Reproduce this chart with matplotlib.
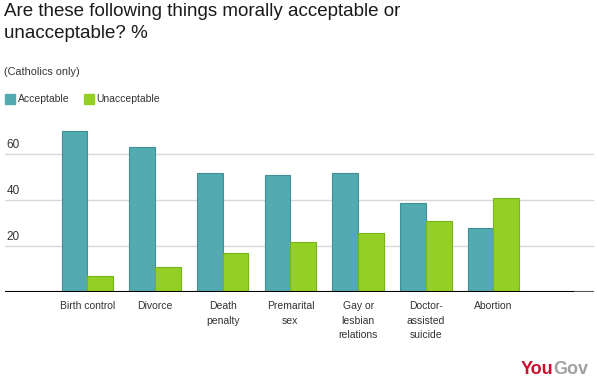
import numpy as np
import matplotlib.pyplot as plt

plt.rcParams['font.family'] = ['Liberation Sans', 'DejaVu Sans']

categorias = ['Birth control', 'Divorce', 'Death\npenalty', 'Premarital\nsex',
              'Gay or\nlesbian\nrelations', 'Doctor-\nassisted\nsuicide', 'Abortion']
aceitavel = [70, 63, 52, 51, 52, 39, 28]
inaceitavel = [7, 11, 17, 22, 26, 31, 41]
yticks = [20, 40, 60]

cor_a = '#53abb1'
borda_a = '#3f8f97'
cor_u = '#93cf24'
borda_u = '#76b31c'

fig = plt.figure(figsize=(5.97, 3.87), dpi=100)
ax = fig.add_axes([5/597, (387-292.3)/387, 589/597, 184/387])

x = np.arange(len(categorias))
w = 0.38
ax.bar(x - w/2, aceitavel, w, color=cor_a, edgecolor=borda_a, linewidth=0.8, zorder=3)
ax.bar(x + w/2, inaceitavel, w, color=cor_u, edgecolor=borda_u, linewidth=0.8, zorder=3)

ax.set_xlim(-1.216, 7.485)
ax.set_ylim(0, 80)
for s in ax.spines.values():
    s.set_visible(False)
ax.set_xticks([])
ax.set_yticks([])

for v in yticks:
    ax.axhline(v, color='#d8d8d8', linewidth=1, zorder=1)
    ax.text(1.5/589, v + 1.6, str(v), transform=ax.get_yaxis_transform(),
            ha='left', va='bottom', fontsize=8.5, color='#333333')
ax.axhline(0, xmin=0, xmax=570/589, color='black', linewidth=1.5, zorder=4)
ax.axhline(0, xmin=570/589, xmax=1, color='#555555', linewidth=1.5, zorder=4)

for i, c in enumerate(categorias):
    ax.text(x[i], -3.6, c, ha='center', va='top', fontsize=7.5, color='#333333',
            linespacing=1.62)

fig.text(4/597, 1 - 3/387, 'Are these following things morally acceptable or\nunacceptable? %',
         ha='left', va='top', fontsize=13.5, color='#1a1a1a', linespacing=1.4)
fig.text(4.5/597, 1 - 72/387, '(Catholics only)', ha='left', va='center',
         fontsize=7.8, color='#333333')

# legenda
fig.patches.append(plt.Rectangle((5/597, 1 - 103.5/387), 10/597, 9.5/387,
                                 transform=fig.transFigure, color=cor_a, figure=fig))
fig.text(18/597, 1 - 98.5/387, 'Acceptable', ha='left', va='center', fontsize=7.5, color='#333333')
fig.patches.append(plt.Rectangle((83.5/597, 1 - 103.5/387), 10/597, 9.5/387,
                                 transform=fig.transFigure, color=cor_u, figure=fig))
fig.text(96.5/597, 1 - 98.5/387, 'Unacceptable', ha='left', va='center', fontsize=7.5, color='#333333')

# logo
r = fig.canvas.get_renderer()
t1 = fig.text(521/597, 1 - 370/387, 'You', ha='left', va='center', fontsize=13,
              fontweight='bold', color='#c8102e')
bb = t1.get_window_extent(renderer=r)
fig.text(bb.x1 / fig.bbox.width, 1 - 370/387, 'Gov', ha='left', va='center', fontsize=13,
         fontweight='bold', color='#a0a0a0')

plt.savefig('out.png', dpi=100)
